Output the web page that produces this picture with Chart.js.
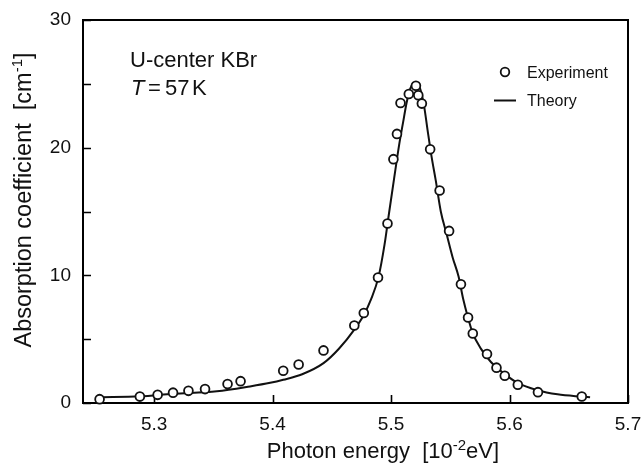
<!DOCTYPE html>
<html><head><meta charset="utf-8">
<script src="https://cdn.jsdelivr.net/npm/chart.js@4/dist/chart.umd.min.js"></script>
<style>html,body{margin:0;padding:0;background:#fff}#wrap{width:643px;height:466px;position:relative}</style>
</head><body><div id="wrap"><canvas id="c"></canvas></div>
<script>
// ---- data ----
const expEnergy = [5.254,5.288,5.303,5.316,5.329,5.343,5.362,5.373,5.409,5.422,5.443,5.469,5.477,5.489,5.497,5.502,5.505,5.508,5.515,5.521,5.523,5.526,5.533,5.541,5.549,5.559,5.565,5.569,5.581,5.589,5.596,5.607,5.624,5.661];
const expAbs = [0.3,0.5,0.64,0.81,0.95,1.09,1.48,1.71,2.53,3.02,4.12,6.07,7.05,9.83,14.06,19.1,21.08,23.5,24.2,24.85,24.1,23.45,19.87,16.65,13.48,9.3,6.7,5.44,3.84,2.77,2.13,1.43,0.85,0.51];
const theoryEnergy = [5.254,5.288,5.316,5.353,5.381,5.398,5.409,5.425,5.443,5.456,5.469,5.477,5.483,5.4895,5.4945,5.4985,5.5026,5.5068,5.5102,5.5131,5.5161,5.5203,5.5246,5.528,5.5308,5.5342,5.5378,5.542,5.547,5.552,5.557,5.561,5.5646,5.569,5.5758,5.5843,5.5955,5.6068,5.6236,5.6405,5.6608,5.668];
const theoryAbs = [0.45,0.52,0.72,0.92,1.3,1.58,1.82,2.25,3.12,4.25,5.75,6.9,8.1,9.9,12.4,15.0,17.6,20.2,22.0,23.5,24.6,25.1,24.6,23.2,21.4,19.3,17.4,15.0,13.2,11.4,9.9,8.1,6.8,5.45,4.26,3.21,2.3,1.57,1.0,0.68,0.5,0.45];
const xTickValues = [5.3,5.4,5.5,5.6,5.7];
const yTickValues = [0,10,20,30];
const yMinorTickValues = [5,15,25];
const seriesLabels = ['Experiment','Theory'];
const annotationLines = ['U-center KBr','T','=','57','K'];

const FONT = '"Liberation Sans", Arial, Helvetica, sans-serif';
const INK = '#111';

function drawRuns(ctx, runs, x, y) {
  let cx = x;
  for (const [t, size, raise, style] of runs) {
    ctx.font = (style || '') + ' ' + size + 'px ' + FONT;
    ctx.fillText(t, cx, y - raise);
    cx += ctx.measureText(t).width;
  }
  return cx - x;
}
function runsWidth(ctx, runs) {
  let w = 0;
  for (const [t, size, raise, style] of runs) {
    ctx.font = (style || '') + ' ' + size + 'px ' + FONT;
    w += ctx.measureText(t).width;
  }
  return w;
}

const decor = {
  id: 'decor',
  beforeDatasetsDraw(chart) {
    const {ctx, chartArea: a, scales: {x, y}} = chart;
    ctx.save();
    ctx.strokeStyle = '#000';
    ctx.lineWidth = 1.6;
    ctx.beginPath();
    for (const v of xTickValues) {
      const px = Math.round(x.getPixelForValue(v)) + 0.5;
      ctx.moveTo(px, a.bottom); ctx.lineTo(px, a.bottom - 8);
    }
    for (const v of yTickValues.concat(yMinorTickValues)) {
      const py = Math.round(y.getPixelForValue(v)) + 0.5;
      ctx.moveTo(a.left, py); ctx.lineTo(a.left + 8, py);
    }
    ctx.stroke();
    ctx.lineWidth = 2;
    ctx.strokeRect(a.left, a.top, a.right - a.left, a.bottom - a.top);
    ctx.restore();
  },
  afterDraw(chart) {
    const {ctx} = chart;
    ctx.save();
    ctx.fillStyle = INK;
    ctx.textBaseline = 'alphabetic';
    ctx.textAlign = 'left';
    // x title
    const xRuns = [['Photon energy  [10', 22, 0], ['-2', 15, 8], ['eV]', 22, 0]];
    const xw = runsWidth(ctx, xRuns);
    drawRuns(ctx, xRuns, 383 - xw / 2, 458);
    // y title
    const yRuns = [['Absorption coefficient  [cm', 23.5, 0], ['-1', 15, 9], [']', 23.5, 0]];
    const yw = runsWidth(ctx, yRuns);
    ctx.save();
    ctx.translate(31, 200);
    ctx.rotate(-Math.PI / 2);
    drawRuns(ctx, yRuns, -yw / 2, 0);
    ctx.restore();
    // annotation
    ctx.font = '22px ' + FONT;
    ctx.fillText(annotationLines[0], 130, 67);
    ctx.font = 'italic 22px ' + FONT;
    ctx.fillText(annotationLines[1], 131, 94.5);
    ctx.font = '22px ' + FONT;
    ctx.fillText(annotationLines[2], 148, 94.5);
    ctx.fillText(annotationLines[3], 165, 94.5);
    ctx.fillText(annotationLines[4], 192, 94.5);
    // legend
    ctx.strokeStyle = INK;
    ctx.lineWidth = 1.8;
    ctx.beginPath(); ctx.arc(505, 72, 4.3, 0, Math.PI * 2); ctx.stroke();
    ctx.lineWidth = 2;
    ctx.beginPath(); ctx.moveTo(494, 100.5); ctx.lineTo(516, 100.5); ctx.stroke();
    ctx.font = '16px ' + FONT;
    ctx.fillText(seriesLabels[0], 527, 77.5);
    ctx.fillText(seriesLabels[1], 527, 106);
    ctx.restore();
  }
};

new Chart(document.getElementById('c'), {
  data: {
    datasets: [
      {
        type: 'scatter',
        label: seriesLabels[0],
        data: expEnergy.map((e, i) => ({x: e, y: expAbs[i]})),
        pointRadius: 4.4,
        pointBorderWidth: 1.8,
        pointBackgroundColor: '#fff',
        pointBorderColor: INK,
        showLine: false,
        order: 0,
        clip: false
      },
      {
        type: 'line',
        label: seriesLabels[1],
        data: theoryEnergy.map((e, i) => ({x: e, y: theoryAbs[i]})),
        borderColor: INK,
        borderWidth: 2,
        pointRadius: 0,
        fill: false,
        cubicInterpolationMode: 'monotone',
        order: 1
      }
    ]
  },
  options: {
    responsive: true,
    maintainAspectRatio: false,
    devicePixelRatio: 1,
    animation: false,
    layout: {padding: {top: 20, right: 15, left: 0, bottom: 0}},
    plugins: {legend: {display: false}, tooltip: {enabled: false}},
    scales: {
      x: {
        type: 'linear', min: 5.24, max: 5.70,
        afterBuildTicks: s => { s.ticks = xTickValues.map(v => ({value: v})); },
        afterFit: s => { s.height = 63; s.paddingLeft = 0; s.paddingRight = 0; },
        ticks: {font: {size: 19, family: FONT}, color: INK, padding: 10, maxRotation: 0, autoSkip: false,
                callback: v => Number(v).toFixed(1)},
        grid: {display: false, drawTicks: false},
        border: {display: false}
      },
      y: {
        type: 'linear', min: 0, max: 30,
        afterBuildTicks: s => { s.ticks = yTickValues.map(v => ({value: v})); },
        afterFit: s => { s.width = 83; s.paddingTop = 0; s.paddingBottom = 0; },
        ticks: {font: {size: 19, family: FONT}, color: INK, padding: 12,
                callback: v => String(v)},
        grid: {display: false, drawTicks: false},
        border: {display: false}
      }
    }
  },
  plugins: [decor]
});
</script>
</body></html>
